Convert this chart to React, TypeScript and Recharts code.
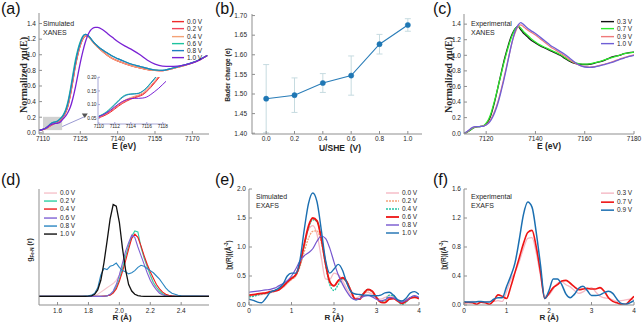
import React from 'react';
import {
  LineChart,
  Line,
  XAxis,
  YAxis,
  ReferenceArea,
  ReferenceLine,
  ReferenceDot,
  ErrorBar,
  CartesianGrid,
} from 'recharts';

const FONT = '"Liberation Sans", Arial, Helvetica, sans-serif';
const SERIF = '"Liberation Serif", "Times New Roman", serif';
const FRAME = '#8f8f8f';
const INK = '#262626';

// ---------------- (a) Simulated XANES ----------------
const aEnergy = [7108, 7110, 7111, 7112, 7113, 7114, 7115, 7116, 7117, 7118, 7119, 7120, 7121, 7122, 7123, 7124, 7125, 7126, 7127, 7128, 7129, 7130, 7131, 7132, 7134, 7136, 7138, 7140, 7143, 7146, 7149, 7152, 7155, 7158, 7161, 7164, 7167, 7170, 7173, 7176];
const aV00 = [0.030, 0.042, 0.052, 0.070, 0.090, 0.110, 0.125, 0.140, 0.165, 0.200, 0.250, 0.340, 0.480, 0.660, 0.850, 1.000, 1.120, 1.200, 1.240, 1.240, 1.210, 1.170, 1.130, 1.100, 1.040, 0.990, 0.950, 0.920, 0.885, 0.855, 0.830, 0.810, 0.800, 0.795, 0.815, 0.840, 0.865, 0.895, 0.935, 0.990];
const aV02 = [0.030, 0.043, 0.054, 0.073, 0.093, 0.113, 0.128, 0.142, 0.167, 0.203, 0.255, 0.345, 0.490, 0.670, 0.860, 1.005, 1.125, 1.205, 1.242, 1.240, 1.208, 1.168, 1.130, 1.100, 1.042, 0.992, 0.952, 0.922, 0.887, 0.856, 0.831, 0.811, 0.801, 0.796, 0.815, 0.840, 0.866, 0.896, 0.936, 0.990];
const aV04 = [0.030, 0.044, 0.055, 0.075, 0.096, 0.116, 0.131, 0.145, 0.170, 0.207, 0.260, 0.355, 0.500, 0.680, 0.870, 1.015, 1.130, 1.208, 1.243, 1.238, 1.205, 1.165, 1.128, 1.098, 1.040, 0.990, 0.950, 0.920, 0.885, 0.855, 0.830, 0.810, 0.800, 0.796, 0.815, 0.840, 0.866, 0.896, 0.936, 0.990];
const aV06 = [0.030, 0.045, 0.060, 0.085, 0.115, 0.135, 0.140, 0.155, 0.185, 0.225, 0.290, 0.400, 0.560, 0.750, 0.930, 1.070, 1.170, 1.240, 1.260, 1.250, 1.215, 1.175, 1.140, 1.110, 1.060, 1.020, 0.980, 0.950, 0.910, 0.875, 0.850, 0.825, 0.805, 0.800, 0.820, 0.845, 0.870, 0.900, 0.940, 0.990];
const aV08 = [0.030, 0.044, 0.058, 0.082, 0.112, 0.133, 0.139, 0.152, 0.180, 0.215, 0.275, 0.375, 0.530, 0.710, 0.890, 1.040, 1.150, 1.230, 1.260, 1.250, 1.215, 1.175, 1.140, 1.110, 1.060, 1.020, 0.980, 0.950, 0.910, 0.875, 0.850, 0.825, 0.805, 0.800, 0.820, 0.845, 0.870, 0.900, 0.940, 0.990];
const aV10 = [0.030, 0.045, 0.058, 0.080, 0.100, 0.115, 0.120, 0.125, 0.140, 0.175, 0.210, 0.260, 0.330, 0.440, 0.580, 0.740, 0.900, 1.040, 1.160, 1.250, 1.310, 1.340, 1.350, 1.350, 1.320, 1.270, 1.220, 1.170, 1.110, 1.060, 1.000, 0.930, 0.880, 0.855, 0.850, 0.855, 0.870, 0.895, 0.935, 0.990];
const aTicksX = [7110, 7125, 7140, 7155, 7170];
const aTicksY = [0, 0.2, 0.4, 0.6, 0.8, 1.0, 1.2, 1.4];

// inset of (a)
const aInsetE = [7110, 7110.5, 7111, 7111.5, 7112, 7112.5, 7113, 7113.5, 7114, 7114.5, 7115, 7115.5, 7116, 7116.5, 7117, 7117.5, 7118, 7118.5];
const aInV00 = [0.052, 0.057, 0.064, 0.073, 0.084, 0.095, 0.105, 0.113, 0.120, 0.125, 0.130, 0.136, 0.148, 0.163, 0.180, 0.198, 0.217, 0.237];
const aInV02 = [0.054, 0.059, 0.067, 0.077, 0.088, 0.099, 0.109, 0.117, 0.123, 0.128, 0.133, 0.139, 0.151, 0.166, 0.183, 0.201, 0.220, 0.240];
const aInV04 = [0.055, 0.061, 0.069, 0.080, 0.091, 0.102, 0.112, 0.120, 0.126, 0.131, 0.136, 0.143, 0.155, 0.170, 0.187, 0.205, 0.224, 0.244];
const aInV06 = [0.058, 0.065, 0.075, 0.088, 0.102, 0.117, 0.130, 0.137, 0.139, 0.140, 0.142, 0.150, 0.163, 0.180, 0.197, 0.215, 0.235, 0.255];
const aInV08 = [0.057, 0.063, 0.072, 0.085, 0.099, 0.114, 0.127, 0.135, 0.138, 0.139, 0.141, 0.149, 0.161, 0.178, 0.195, 0.213, 0.233, 0.253];
const aInV10 = [0.056, 0.062, 0.070, 0.080, 0.092, 0.103, 0.112, 0.118, 0.122, 0.123, 0.123, 0.124, 0.128, 0.137, 0.148, 0.160, 0.174, 0.188];
const aInsetTicksX = [7110, 7112, 7114, 7116, 7118];
const aInsetTicksY = [0.05, 0.10, 0.15, 0.20];

// ---------------- (b) Bader charge ----------------
const bPotential = [0, 0.2, 0.4, 0.6, 0.8, 1.0];
const bCharge = [1.488, 1.497, 1.528, 1.547, 1.627, 1.676];
const bError = [0.087, 0.044, 0.024, 0.05, 0.025, 0.016];
const bTicksX = [0, 0.2, 0.4, 0.6, 0.8, 1.0];
const bTicksY = [1.40, 1.45, 1.50, 1.55, 1.60, 1.65, 1.70];

// ---------------- (c) Experimental XANES ----------------
const cEnergy = [7111, 7112, 7113, 7114, 7115, 7116, 7117, 7118, 7119, 7120, 7121, 7122, 7123, 7124, 7125, 7126, 7127, 7128, 7129, 7130, 7131, 7132, 7133, 7134, 7135, 7136, 7138, 7140, 7142, 7144, 7146, 7148, 7150, 7152, 7154, 7156, 7158, 7160, 7162, 7164, 7166, 7168, 7170, 7172, 7174, 7176, 7178, 7180];
const cV03 = [0.000, 0.010, 0.030, 0.050, 0.070, 0.082, 0.085, 0.088, 0.095, 0.120, 0.160, 0.240, 0.350, 0.480, 0.620, 0.760, 0.900, 1.020, 1.130, 1.230, 1.300, 1.350, 1.370, 1.330, 1.290, 1.260, 1.200, 1.160, 1.120, 1.090, 1.060, 1.030, 1.000, 0.960, 0.920, 0.895, 0.885, 0.882, 0.885, 0.900, 0.915, 0.935, 0.965, 0.985, 1.000, 1.020, 1.035, 1.040];
const cV07 = [0.000, 0.010, 0.030, 0.050, 0.070, 0.082, 0.085, 0.088, 0.097, 0.130, 0.180, 0.260, 0.370, 0.490, 0.620, 0.750, 0.880, 1.000, 1.110, 1.210, 1.290, 1.350, 1.370, 1.350, 1.310, 1.280, 1.220, 1.170, 1.130, 1.100, 1.070, 1.040, 1.010, 0.970, 0.930, 0.905, 0.890, 0.887, 0.890, 0.905, 0.920, 0.940, 0.960, 0.980, 1.000, 1.020, 1.030, 1.040];
const cV09 = [0.000, 0.013, 0.035, 0.060, 0.077, 0.084, 0.086, 0.088, 0.094, 0.110, 0.140, 0.185, 0.250, 0.330, 0.430, 0.550, 0.680, 0.820, 0.960, 1.100, 1.220, 1.310, 1.370, 1.390, 1.370, 1.345, 1.300, 1.260, 1.210, 1.160, 1.110, 1.070, 1.030, 0.990, 0.940, 0.900, 0.870, 0.855, 0.850, 0.855, 0.870, 0.885, 0.905, 0.925, 0.950, 0.970, 0.990, 1.005];
const cV10 = [0.000, 0.015, 0.040, 0.065, 0.080, 0.085, 0.085, 0.087, 0.092, 0.105, 0.130, 0.170, 0.230, 0.310, 0.410, 0.530, 0.660, 0.800, 0.950, 1.100, 1.230, 1.330, 1.390, 1.420, 1.400, 1.370, 1.320, 1.280, 1.230, 1.180, 1.130, 1.090, 1.050, 1.010, 0.960, 0.910, 0.870, 0.850, 0.845, 0.850, 0.865, 0.880, 0.900, 0.920, 0.945, 0.965, 0.985, 1.000];
const cTicksX = [7120, 7140, 7160, 7180];
const cTicksY = [0, 0.2, 0.4, 0.6, 0.8, 1.0, 1.2, 1.4];

// ---------------- (d) g Fe-N (r) ----------------
const dR = [1.48, 1.70, 1.72, 1.74, 1.76, 1.78, 1.80, 1.82, 1.84, 1.86, 1.88, 1.90, 1.92, 1.94, 1.96, 1.98, 2.00, 2.02, 2.04, 2.06, 2.08, 2.10, 2.12, 2.14, 2.16, 2.18, 2.20, 2.22, 2.24, 2.26, 2.28, 2.30, 2.32, 2.34, 2.36, 2.38, 2.40, 2.58];
const dV00 = [0, 0, 0, 0, 0, 0, 0, 0, 0.005, 0.02, 0.04, 0.06, 0.08, 0.10, 0.12, 0.15, 0.20, 0.28, 0.38, 0.48, 0.56, 0.58, 0.55, 0.46, 0.36, 0.27, 0.19, 0.12, 0.07, 0.04, 0.02, 0.01, 0.005, 0, 0, 0, 0, 0];
const dV02 = [0, 0, 0, 0, 0, 0, 0, 0, 0, 0, 0, 0.002, 0.005, 0.015, 0.04, 0.09, 0.16, 0.26, 0.37, 0.47, 0.56, 0.61, 0.60, 0.46, 0.36, 0.28, 0.20, 0.13, 0.085, 0.05, 0.025, 0.012, 0.006, 0.003, 0, 0, 0, 0];
const dV04 = [0, 0, 0, 0, 0, 0, 0, 0, 0, 0, 0, 0.003, 0.006, 0.012, 0.03, 0.07, 0.14, 0.23, 0.33, 0.44, 0.54, 0.58, 0.55, 0.47, 0.38, 0.30, 0.23, 0.17, 0.11, 0.07, 0.04, 0.02, 0.01, 0.005, 0.002, 0, 0, 0];
const dV06 = [0, 0, 0, 0, 0, 0, 0, 0, 0, 0, 0, 0.002, 0.005, 0.02, 0.05, 0.11, 0.20, 0.31, 0.42, 0.50, 0.57, 0.55, 0.46, 0.38, 0.30, 0.22, 0.15, 0.10, 0.06, 0.03, 0.015, 0.005, 0.002, 0, 0, 0, 0, 0];
const dV08 = [0, 0, 0, 0, 0, 0.003, 0.005, 0.012, 0.03, 0.08, 0.20, 0.26, 0.25, 0.28, 0.29, 0.31, 0.27, 0.24, 0.23, 0.21, 0.22, 0.24, 0.27, 0.29, 0.28, 0.26, 0.24, 0.22, 0.19, 0.16, 0.12, 0.08, 0.05, 0.03, 0.02, 0.01, 0.005, 0];
const dV10 = [0, 0, 0, 0, 0, 0, 0.002, 0.005, 0.02, 0.06, 0.15, 0.31, 0.51, 0.72, 0.855, 0.84, 0.69, 0.45, 0.25, 0.11, 0.05, 0.02, 0.008, 0.003, 0, 0, 0, 0, 0, 0, 0, 0, 0, 0, 0, 0, 0, 0];
const dTicksX = [1.6, 1.8, 2.0, 2.2, 2.4];

// ---------------- (e) Simulated EXAFS ----------------
const eR = [0, 0.1, 0.2, 0.3, 0.4, 0.5, 0.6, 0.7, 0.8, 0.9, 1.0, 1.1, 1.2, 1.3, 1.4, 1.5, 1.6, 1.7, 1.8, 1.9, 2.0, 2.1, 2.2, 2.3, 2.4, 2.5, 2.6, 2.7, 2.8, 2.9, 3.0, 3.1, 3.2, 3.3, 3.4, 3.5, 3.6, 3.7, 3.8, 3.9, 4.0];
const eV00 = [0.15, 0.16, 0.17, 0.18, 0.19, 0.21, 0.23, 0.26, 0.30, 0.37, 0.44, 0.50, 0.70, 1.05, 1.30, 1.37, 1.22, 0.82, 0.45, 0.44, 0.55, 0.52, 0.42, 0.28, 0.17, 0.12, 0.15, 0.20, 0.22, 0.18, 0.12, 0.10, 0.13, 0.16, 0.14, 0.09, 0.06, 0.09, 0.13, 0.14, 0.12];
const eV02 = [0.16, 0.17, 0.18, 0.19, 0.20, 0.22, 0.24, 0.27, 0.32, 0.38, 0.44, 0.50, 0.66, 0.92, 1.15, 1.27, 1.28, 1.08, 0.72, 0.42, 0.33, 0.40, 0.46, 0.40, 0.24, 0.10, 0.10, 0.19, 0.25, 0.22, 0.12, 0.04, 0.06, 0.12, 0.12, 0.06, 0.02, 0.06, 0.12, 0.14, 0.11];
const eV04 = [0.14, 0.15, 0.17, 0.19, 0.20, 0.22, 0.25, 0.28, 0.33, 0.40, 0.47, 0.52, 0.70, 1.02, 1.33, 1.47, 1.44, 1.16, 0.70, 0.35, 0.25, 0.35, 0.45, 0.40, 0.24, 0.09, 0.11, 0.21, 0.27, 0.23, 0.13, 0.06, 0.08, 0.17, 0.16, 0.07, 0.01, 0.05, 0.13, 0.15, 0.12];
const eV06 = [0.17, 0.18, 0.19, 0.20, 0.21, 0.23, 0.24, 0.26, 0.32, 0.40, 0.46, 0.52, 0.72, 1.05, 1.36, 1.50, 1.45, 1.15, 0.72, 0.40, 0.33, 0.42, 0.47, 0.40, 0.24, 0.10, 0.10, 0.20, 0.27, 0.24, 0.13, 0.05, 0.04, 0.10, 0.11, 0.07, 0.03, 0.07, 0.12, 0.13, 0.11];
const eV08 = [0.22, 0.23, 0.24, 0.25, 0.26, 0.27, 0.29, 0.33, 0.37, 0.42, 0.50, 0.62, 0.76, 0.85, 0.90, 0.97, 1.10, 1.19, 1.15, 0.98, 0.74, 0.52, 0.36, 0.23, 0.13, 0.09, 0.11, 0.15, 0.16, 0.14, 0.10, 0.07, 0.09, 0.13, 0.12, 0.08, 0.05, 0.08, 0.13, 0.16, 0.13];
const eV10 = [0.10, 0.08, 0.05, 0.04, 0.12, 0.22, 0.25, 0.29, 0.36, 0.50, 0.55, 0.55, 0.78, 1.30, 1.75, 1.93, 1.78, 1.30, 0.78, 0.55, 0.62, 0.70, 0.60, 0.38, 0.23, 0.19, 0.18, 0.17, 0.17, 0.16, 0.16, 0.17, 0.21, 0.22, 0.17, 0.09, 0.07, 0.12, 0.21, 0.23, 0.18];
const eTicksX = [0, 1, 2, 3, 4];
const eTicksY = [0, 0.5, 1.0, 1.5, 2.0];

// ---------------- (f) Experimental EXAFS ----------------
const fR = [0, 0.1, 0.2, 0.3, 0.4, 0.5, 0.6, 0.7, 0.8, 0.9, 1.0, 1.1, 1.2, 1.3, 1.4, 1.5, 1.6, 1.7, 1.8, 1.9, 2.0, 2.1, 2.2, 2.3, 2.4, 2.5, 2.6, 2.7, 2.8, 2.9, 3.0, 3.1, 3.2, 3.3, 3.4, 3.5, 3.6, 3.7, 3.8, 3.9, 4.0];
const fV03 = [0.04, 0.045, 0.05, 0.045, 0.04, 0.045, 0.05, 0.05, 0.06, 0.05, 0.18, 0.35, 0.45, 0.60, 0.78, 0.92, 0.93, 0.72, 0.40, 0.12, 0.14, 0.22, 0.30, 0.32, 0.28, 0.25, 0.20, 0.16, 0.18, 0.22, 0.24, 0.18, 0.12, 0.10, 0.09, 0.07, 0.05, 0.06, 0.07, 0.08, 0.07];
const fV07 = [0.03, 0.035, 0.03, 0.01, 0.04, 0.03, 0.01, 0.06, 0.14, 0.12, 0.09, 0.25, 0.45, 0.65, 0.85, 1.00, 1.03, 0.80, 0.45, 0.09, 0.16, 0.24, 0.28, 0.33, 0.34, 0.30, 0.25, 0.21, 0.22, 0.23, 0.22, 0.22, 0.24, 0.19, 0.10, 0.05, 0.03, 0.01, 0.01, 0.06, 0.12];
const fV09 = [0.046, 0.04, 0.04, 0.045, 0.05, 0.04, 0.04, 0.08, 0.10, 0.10, 0.25, 0.40, 0.58, 0.90, 1.25, 1.42, 1.35, 1.00, 0.55, 0.09, 0.20, 0.36, 0.36, 0.28, 0.15, 0.10, 0.15, 0.23, 0.26, 0.20, 0.13, 0.13, 0.14, 0.17, 0.19, 0.16, 0.08, 0.02, 0.01, 0.03, 0.06];
const fTicksX = [0, 1, 2, 3, 4];
const fTicksY = [0, 0.4, 0.8, 1.2, 1.6];

// ---------------- helpers ----------------
type Series = { label: string; values: number[]; color: string; width: number; dash?: string };

const fmt1 = (v: number) => v.toFixed(1);
const fmt2 = (v: number) => v.toFixed(2);
const fmt0 = (v: number) => String(v);

function frameAxes(stroke: string) {
  return [
    <XAxis key="ftop" xAxisId="top" orientation="top" type="number" domain={[0, 1]} height={0} tick={false} tickLine={false} axisLine={{ stroke }} />,
    <YAxis key="fright" yAxisId="right" orientation="right" type="number" domain={[0, 1]} width={0} tick={false} tickLine={false} axisLine={{ stroke }} />,
  ];
}

interface PanelProps {
  box: [number, number, number, number];
  plot: [number, number, number, number];
  x: number[];
  series: Series[];
  xDomain: [number, number];
  xTicks: number[];
  xFmt: (v: number) => string;
  yDomain: [number, number];
  yTicks?: number[];
  yFmt?: (v: number) => string;
  yw?: number;
  xh?: number;
  tickFont?: number;
  tickSize?: number;
  xTickMargin?: number;
  yTickMargin?: number;
  frame?: string;
  background?: string;
  curve?: 'monotone' | 'linear';
  children?: React.ReactNode;
}

function Panel(p: PanelProps) {
  const [bl, bt, bw, bh] = p.box;
  const [pl, pt, pr, pb] = p.plot;
  const yw = p.yw ?? 26;
  const xh = p.xh ?? 14;
  const frame = p.frame ?? FRAME;
  const ts = p.tickSize ?? -3;
  const tick = { fontSize: p.tickFont ?? 6.5, fill: INK, fontFamily: FONT };
  const data = p.x.map((xv, i) => {
    const row: Record<string, number> = { x: xv };
    p.series.forEach((s, j) => {
      row['s' + j] = s.values[i];
    });
    return row;
  });
  return (
    <div style={{ position: 'absolute', left: bl, top: bt }}>
      <LineChart
        width={bw}
        height={bh}
        data={data}
        margin={{ left: pl - bl - yw, top: pt - bt, right: bl + bw - pr, bottom: bt + bh - pb - xh }}
      >
        {p.background ? <CartesianGrid fill={p.background} horizontal={false} vertical={false} /> : null}
        <XAxis
          dataKey="x"
          type="number"
          domain={p.xDomain}
          allowDataOverflow
          ticks={p.xTicks}
          tickFormatter={p.xFmt}
          interval={0}
          height={xh}
          tick={tick}
          tickSize={ts}
          tickMargin={p.xTickMargin ?? 5}
          axisLine={{ stroke: frame }}
          tickLine={{ stroke: frame }}
        />
        <YAxis
          type="number"
          domain={p.yDomain}
          allowDataOverflow
          ticks={p.yTicks ?? []}
          tickFormatter={p.yFmt}
          interval={0}
          width={yw}
          tick={p.yTicks ? tick : false}
          tickLine={p.yTicks ? { stroke: frame } : false}
          tickSize={ts}
          tickMargin={p.yTickMargin ?? 6}
          axisLine={{ stroke: frame }}
        />
        {frameAxes(frame)}
        {p.children}
        {p.series.map((s, j) => (
          <Line
            key={j}
            type={p.curve ?? 'monotone'}
            dataKey={'s' + j}
            stroke={s.color}
            strokeWidth={s.width}
            strokeDasharray={s.dash}
            dot={false}
            activeDot={false}
            isAnimationActive={false}
          />
        ))}
      </LineChart>
    </div>
  );
}

function LegendBox(props: { x: number; y: number; rowH: number; lineLen: number; items: Series[] }) {
  const { x, y, rowH, lineLen, items } = props;
  return (
    <div style={{ position: 'absolute', left: x, top: y }}>
      {items.map((it) => (
        <div key={it.label} style={{ display: 'flex', alignItems: 'center', height: rowH }}>
          <svg width={lineLen + 3} height={rowH} style={{ display: 'block' }}>
            <line x1={0} x2={lineLen} y1={rowH / 2} y2={rowH / 2} stroke={it.color} strokeWidth={Math.max(1.4, it.width)} strokeDasharray={it.dash} />
          </svg>
          <span style={{ fontSize: 6.5, fontFamily: FONT, color: INK, lineHeight: rowH + 'px', whiteSpace: 'pre' }}>{it.label}</span>
        </div>
      ))}
    </div>
  );
}

function Title(props: { cx: number; cy: number; size: number; rotate?: boolean; family?: string; bold?: boolean; children: React.ReactNode }) {
  const { cx, cy, size, rotate, family, bold = true, children } = props;
  return (
    <div
      style={{
        position: 'absolute',
        left: cx,
        top: cy,
        transform: `translate(-50%, -50%)${rotate ? ' rotate(-90deg)' : ''}`,
        fontSize: size,
        fontWeight: bold ? 700 : 400,
        fontFamily: family ?? FONT,
        color: INK,
        whiteSpace: 'pre',
        lineHeight: 1,
      }}
    >
      {children}
    </div>
  );
}

function Note(props: { x: number; y: number; lines: string[] }) {
  return (
    <div style={{ position: 'absolute', left: props.x, top: props.y, fontSize: 7, lineHeight: '9px', fontFamily: FONT, color: INK }}>
      {props.lines.map((l) => (
        <div key={l}>{l}</div>
      ))}
    </div>
  );
}

function PanelLabel(props: { x: number; y: number; text: string }) {
  return (
    <div style={{ position: 'absolute', left: props.x, top: props.y, fontSize: 16, lineHeight: '16px', fontFamily: FONT, color: '#111' }}>
      {props.text}
    </div>
  );
}

// ---------------- series definitions ----------------
const aSeries: Series[] = [
  { label: '0.0 V', values: aV00, color: '#ee2a2a', width: 1.2 },
  { label: '0.2 V', values: aV02, color: '#f2465a', width: 1.2 },
  { label: '0.4 V', values: aV04, color: '#f4a276', width: 1.2 },
  { label: '0.6 V', values: aV06, color: '#1ec39f', width: 1.2 },
  { label: '0.8 V', values: aV08, color: '#1f7fc0', width: 1.2 },
  { label: '1.0 V', values: aV10, color: '#7a22d4', width: 1.3 },
];
const aInsetSeries: Series[] = [
  { label: '0.0 V', values: aInV00, color: '#ee2a2a', width: 1 },
  { label: '0.2 V', values: aInV02, color: '#f2465a', width: 1 },
  { label: '0.4 V', values: aInV04, color: '#f4a276', width: 1 },
  { label: '0.6 V', values: aInV06, color: '#1ec39f', width: 1 },
  { label: '0.8 V', values: aInV08, color: '#1f7fc0', width: 1 },
  { label: '1.0 V', values: aInV10, color: '#7a22d4', width: 1 },
];
const cSeries: Series[] = [
  { label: '0.3 V', values: cV03, color: '#111111', width: 1.3 },
  { label: '0.7 V', values: cV07, color: '#2ee82e', width: 1.3 },
  { label: '0.9 V', values: cV09, color: '#f07a7a', width: 1.2 },
  { label: '1.0 V', values: cV10, color: '#6f5fd6', width: 1.3 },
];
const dSeries: Series[] = [
  { label: '0.0 V', values: dV00, color: '#f6c3cb', width: 1.1 },
  { label: '0.2 V', values: dV02, color: '#2fd0a5', width: 1.1 },
  { label: '0.4 V', values: dV04, color: '#ee1b1b', width: 1.1 },
  { label: '0.6 V', values: dV06, color: '#7f62d4', width: 1.1 },
  { label: '0.8 V', values: dV08, color: '#2a86c2', width: 1.1 },
  { label: '1.0 V', values: dV10, color: '#111111', width: 1.3 },
];
const eSeries: Series[] = [
  { label: '0.0 V', values: eV00, color: '#f5b9c4', width: 1.3 },
  { label: '0.2 V', values: eV02, color: '#f5a27a', width: 1.3, dash: '2 1' },
  { label: '0.4 V', values: eV04, color: '#22c4a2', width: 1.3, dash: '2 1' },
  { label: '0.6 V', values: eV06, color: '#ee1414', width: 1.8 },
  { label: '0.8 V', values: eV08, color: '#7656cf', width: 1.2 },
  { label: '1.0 V', values: eV10, color: '#1b6fb1', width: 1.4 },
];
const fSeries: Series[] = [
  { label: '0.3 V', values: fV03, color: '#f5b9c4', width: 1.3 },
  { label: '0.7 V', values: fV07, color: '#ee1414', width: 1.6 },
  { label: '0.9 V', values: fV09, color: '#1b6fb1', width: 1.5 },
];

const arrowHead = (props: any) => {
  const { cx, cy } = props;
  return <path d={`M${cx - 3},${cy - 2.5} L${cx + 3},${cy - 2.5} L${cx},${cy + 2} Z`} fill="#555" />;
};

function PanelB() {
  const data = bPotential.map((u, i) => ({ x: u, y: bCharge[i], err: bError[i] }));
  const tick = { fontSize: 6.5, fill: INK, fontFamily: FONT };
  return (
    <div style={{ position: 'absolute', left: 210, top: 0 }}>
      <LineChart width={220} height={160} data={data} margin={{ left: 252 - 210 - 26, top: 14, right: 8, bottom: 160 - 134 - 14 }}>
        <XAxis
          dataKey="x"
          type="number"
          domain={[-0.1, 1.1]}
          allowDataOverflow
          ticks={bTicksX}
          tickFormatter={fmt1}
          interval={0}
          height={14}
          tick={tick}
          tickSize={-3}
          tickMargin={5}
          axisLine={{ stroke: FRAME }}
          tickLine={{ stroke: FRAME }}
        />
        <YAxis
          type="number"
          domain={[1.398, 1.704]}
          allowDataOverflow
          ticks={bTicksY}
          tickFormatter={fmt2}
          interval={0}
          width={26}
          tick={tick}
          tickSize={-3}
          tickMargin={8}
          axisLine={{ stroke: FRAME }}
          tickLine={{ stroke: FRAME }}
        />
        {frameAxes(FRAME)}
        <Line
          type="linear"
          dataKey="y"
          stroke="#2a7db8"
          strokeWidth={1.1}
          dot={{ r: 2.6, fill: '#1f77b4', stroke: '#1f77b4', strokeWidth: 0.5 }}
          activeDot={false}
          isAnimationActive={false}
        >
          <ErrorBar dataKey="err" width={3} stroke="#c6dbe0" strokeWidth={1} direction="y" isAnimationActive={false} />
        </Line>
      </LineChart>
    </div>
  );
}

export default function App() {
  return (
    <div style={{ position: 'absolute', left: 0, top: 0, width: 644, height: 325, background: '#fff', overflow: 'hidden', fontFamily: FONT }}>
      {/* (a) */}
      <Panel
        box={[0, 0, 215, 160]}
        plot={[39, 13, 209, 134]}
        x={aEnergy}
        series={aSeries}
        xDomain={[7108.4, 7176.7]}
        xTicks={aTicksX}
        xFmt={fmt0}
        yDomain={[-0.015, 1.535]}
        yTicks={aTicksY}
        yFmt={fmt1}
        yTickMargin={6}
      >
        <ReferenceArea x1={7110} x2={7117.7} y1={0.035} y2={0.205} fill="#c9c9c9" fillOpacity={0.85} stroke="none" />
        <ReferenceLine segment={[{ x: 7117.7, y: 0.08 }, { x: 7126.6, y: 0.205 }]} stroke="#9a9ad2" strokeWidth={1} />
        <ReferenceDot x={7126.8} y={0.215} r={3} shape={arrowHead} />
      </Panel>
      <Panel
        box={[80, 68, 90, 66]}
        plot={[98, 77, 166, 124]}
        x={aInsetE}
        series={aInsetSeries}
        xDomain={[7109.9, 7118.4]}
        xTicks={aInsetTicksX}
        xFmt={fmt0}
        yDomain={[0.029, 0.201]}
        yTicks={aInsetTicksY}
        yFmt={fmt2}
        yw={14}
        xh={8}
        tickFont={4.8}
        tickSize={-2}
        xTickMargin={3}
        yTickMargin={3.5}
        frame="#a6a6d6"
        background="#ffffff"
      />
      <LegendBox x={172} y={18} rowH={7.25} lineLen={12} items={aSeries} />
      <Note x={43} y={19} lines={['Simulated', 'XANES']} />
      <Title cx={23.5} cy={75} size={10} rotate family={SERIF}>Normalized χμ(E)</Title>
      <Title cx={124} cy={146} size={8.5}>E (eV)</Title>
      <PanelLabel x={1} y={1} text="(a)" />

      {/* (b) */}
      <PanelB />
      <Title cx={227.5} cy={75} size={6.8} rotate>Bader charge (e)</Title>
      <Title cx={340} cy={147.5} size={8.5}>{'U/SHE  (V)'}</Title>
      <PanelLabel x={215} y={1} text="(b)" />

      {/* (c) */}
      <Panel
        box={[425, 0, 219, 160]}
        plot={[464, 14, 634, 134]}
        x={cEnergy}
        series={cSeries}
        xDomain={[7111, 7180]}
        xTicks={cTicksX}
        xFmt={fmt0}
        yDomain={[-0.01, 1.53]}
        yTicks={cTicksY}
        yFmt={fmt1}
        yTickMargin={6}
      />
      <LegendBox x={601} y={18} rowH={7.25} lineLen={13} items={cSeries} />
      <Note x={471} y={19} lines={['Experimental', 'XANES']} />
      <Title cx={448.5} cy={75} size={10} rotate family={SERIF}>Normalized χμ(E)</Title>
      <Title cx={549} cy={146} size={8.5}>E (eV)</Title>
      <PanelLabel x={433} y={1} text="(c)" />

      {/* (d) */}
      <Panel
        box={[0, 160, 215, 165]}
        plot={[39, 189, 209, 305]}
        x={dR}
        series={dSeries}
        xDomain={[1.48, 2.58]}
        xTicks={dTicksX}
        xFmt={fmt1}
        yDomain={[-0.08, 1.0]}
        curve="linear"
        xTickMargin={6}
      />
      <LegendBox x={44} y={189.3} rowH={8.1} lineLen={13} items={dSeries} />
      <Title cx={30.5} cy={250} size={7} rotate>
        <span>
          g<sub style={{ fontSize: 4.5 }}>Fe-N</sub> (r)
        </span>
      </Title>
      <Title cx={122} cy={317.5} size={8}>R (Å)</Title>
      <PanelLabel x={1} y={172} text="(d)" />

      {/* (e) */}
      <Panel
        box={[210, 160, 220, 165]}
        plot={[249, 189, 419, 305]}
        x={eR}
        series={eSeries}
        xDomain={[0, 4]}
        xTicks={eTicksX}
        xFmt={fmt0}
        yDomain={[0, 2]}
        yTicks={eTicksY}
        yFmt={fmt1}
        xTickMargin={6}
      />
      <LegendBox x={386} y={189.3} rowH={8} lineLen={13} items={eSeries} />
      <Note x={256} y={191.5} lines={['Simulated', 'EXAFS']} />
      <Title cx={228.5} cy={255} size={6.5} rotate>
        <span>
          |χ(R)|(Å<sup style={{ fontSize: 4.5 }}>-3</sup>)
        </span>
      </Title>
      <Title cx={334} cy={317.5} size={8}>R (Å)</Title>
      <PanelLabel x={215} y={172} text="(e)" />

      {/* (f) */}
      <Panel
        box={[425, 160, 219, 165]}
        plot={[464, 189, 634, 305]}
        x={fR}
        series={fSeries}
        xDomain={[0, 4]}
        xTicks={fTicksX}
        xFmt={fmt0}
        yDomain={[0, 1.6]}
        yTicks={fTicksY}
        yFmt={fmt1}
        xTickMargin={6}
      />
      <LegendBox x={601} y={189.3} rowH={8.3} lineLen={13} items={fSeries} />
      <Note x={471} y={191.5} lines={['Experimental', 'EXAFS']} />
      <Title cx={443.5} cy={255} size={6.5} rotate>
        <span>
          |χ(R)|(Å<sup style={{ fontSize: 4.5 }}>-3</sup>)
        </span>
      </Title>
      <Title cx={549} cy={317.5} size={8}>R (Å)</Title>
      <PanelLabel x={433} y={172} text="(f)" />
    </div>
  );
}
